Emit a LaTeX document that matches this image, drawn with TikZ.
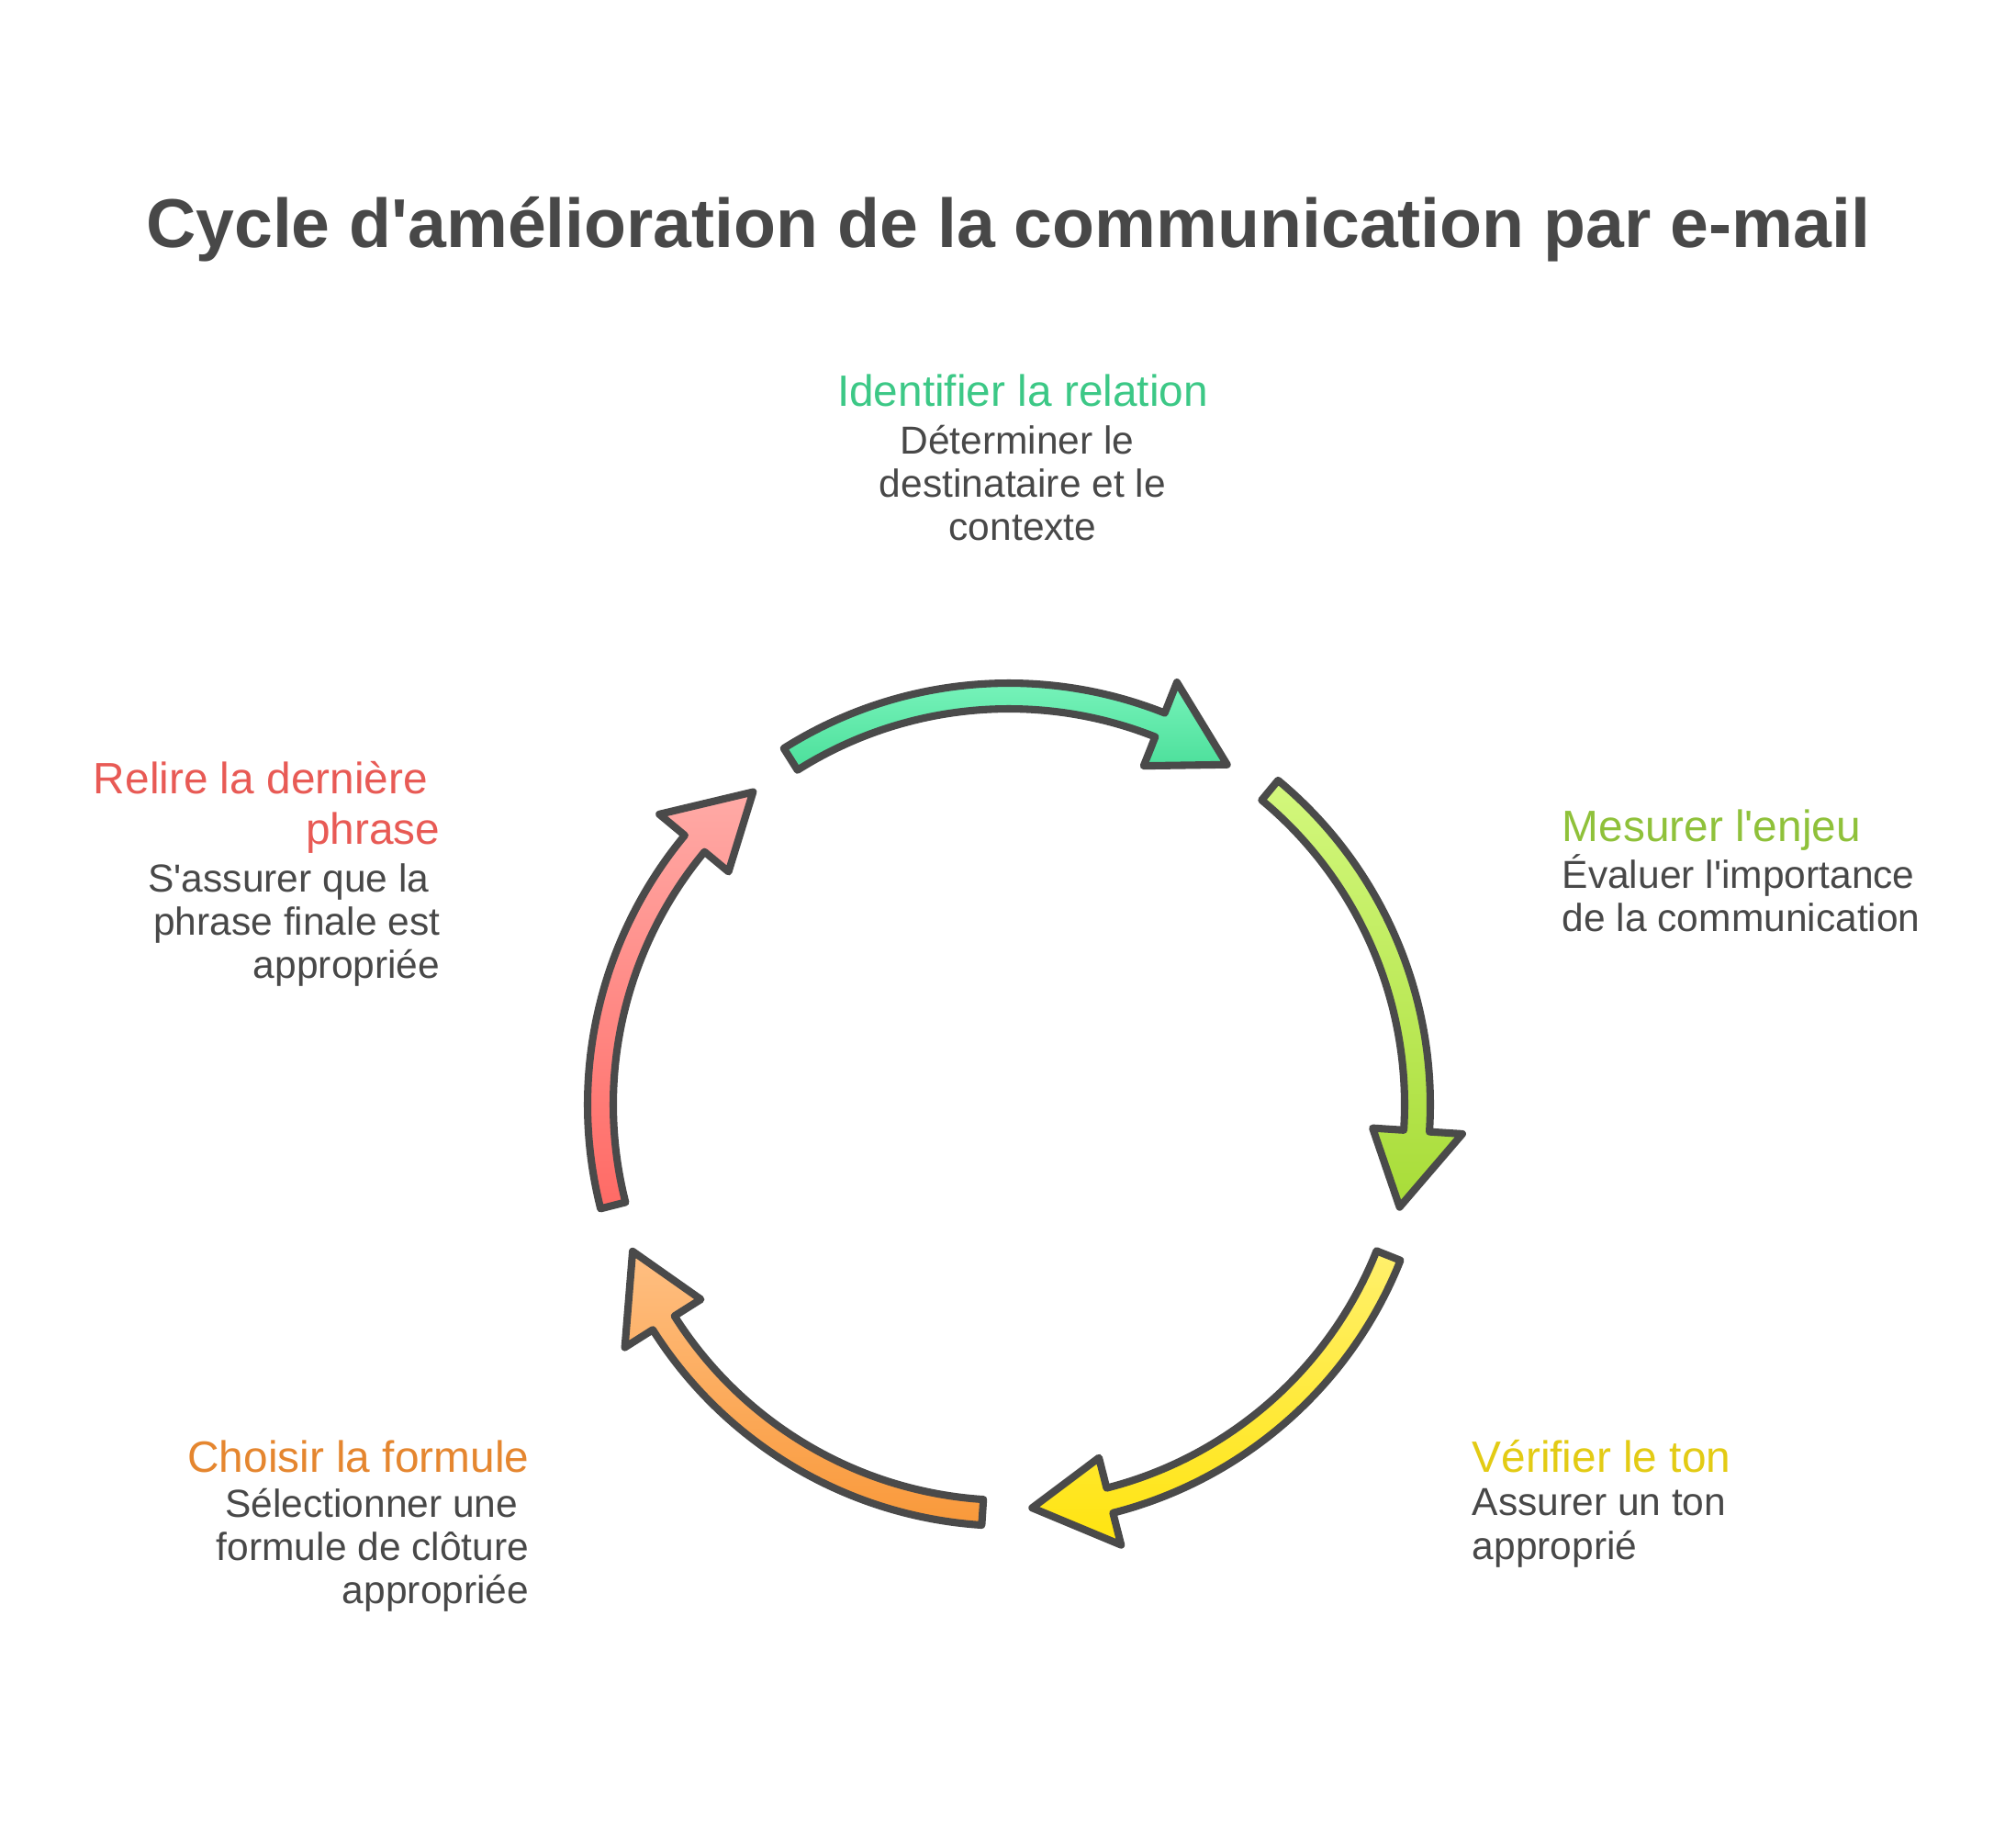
\documentclass[tikz,border=0pt]{standalone}
\usepackage{fontspec}
\setmainfont{Liberation Sans}
\usepackage{tikz}
\definecolor{ink}{HTML}{484848}
\definecolor{edge}{HTML}{4A4A4A}
\definecolor{gnT}{HTML}{80F7C1}\definecolor{gnB}{HTML}{4BDF9A}\definecolor{gnH}{HTML}{3CC886}
\definecolor{lmT}{HTML}{D3F87D}\definecolor{lmB}{HTML}{A8DC38}\definecolor{lmH}{HTML}{8FC13A}
\definecolor{ywT}{HTML}{FFF06C}\definecolor{ywB}{HTML}{FFE40F}\definecolor{ywH}{HTML}{E3CB14}
\definecolor{orT}{HTML}{FFBF82}\definecolor{orB}{HTML}{F9993A}\definecolor{orH}{HTML}{E5862F}
\definecolor{rdT}{HTML}{FFAAA6}\definecolor{rdB}{HTML}{FF6A65}\definecolor{rdH}{HTML}{E85A55}
\tikzset{
  arr/.style={draw=edge, line width=2.3pt, line join=round},
  ttl/.style={font=\fontsize{21.4}{26}\selectfont\bfseries, text=ink, inner sep=0pt},
  hd/.style={font=\fontsize{13.6}{15.6}\selectfont, inner sep=0pt, execute at begin node={\rule{0pt}{12pt}}},
  bd/.style={font=\fontsize{12.1}{13.4}\selectfont, text=ink, inner sep=0pt, execute at begin node={\rule{0pt}{11pt}}}
}
\newcommand{\tsp}{\hspace*{.28em}}
\newcommand{\q}{\textquotesingle}
\newcommand{\rIn}{4.31}
\newcommand{\rOut}{4.59}
\newcommand{\hIn}{3.97}
\newcommand{\hOut}{4.95}
\newcommand{\rTip}{4.40}
% #1 tail angle, #2 top colour, #3 bottom colour
\newcommand{\cycarrow}[3]{%
  \draw[arr, top color=#2, bottom color=#3]
    (#1:\rOut) arc[start angle=#1, end angle=#1-54, radius=\rOut]
    -- (#1-54:\hOut) -- (#1-65:\rTip) -- (#1-54:\hIn) -- (#1-54:\rIn)
    arc[start angle=#1-54, end angle=#1, radius=\rIn] -- cycle;}

\begin{document}
\begin{tikzpicture}
\useasboundingbox[fill=white] (0,0) rectangle (21.96,-19.92);
\node[ttl, anchor=base] (title) at (10.98,-2.70) {Cycle d\q amélioration de la communication par e-mail};

\begin{scope}[shift={(10.99,-12.03)}]
\cycarrow{122.3}{gnT}{gnB}
\cycarrow{50.3}{lmT}{lmB}
\cycarrow{-21.7}{ywT}{ywB}
\cycarrow{-93.7}{orT}{orB}
\cycarrow{-165.7}{rdT}{rdB}
\end{scope}

\node[hd, text=gnH, anchor=base] (relT) at (11.14,-4.43) {Identifier la relation};
\node[bd, align=center, anchor=north] (relB) at (11.14,-4.62) {Déterminer le\tsp\\destinataire et le\tsp\\contexte};
\node[hd, text=lmH, anchor=base west] (enjT) at (17.01,-9.16) {Mesurer l\q enjeu};
\node[bd, align=left, anchor=north west] (enjB) at (17.01,-9.30) {Évaluer l\q importance\\de la communication};
\node[hd, text=ywH, anchor=base west] (tonT) at (16.03,-16.03) {Vérifier le ton};
\node[bd, align=left, anchor=north west] (tonB) at (16.03,-16.21) {Assurer un ton\\approprié};
\node[hd, text=orH, anchor=base east] (forT) at (5.77,-16.03) {Choisir la formule};
\node[bd, align=right, anchor=north east] (forB) at (5.77,-16.20) {Sélectionner une\tsp\\formule de clôture\tsp\\appropriée};
\node[hd, text=rdH, align=right, anchor=north east] (phrT) at (4.80,-8.29) {Relire la dernière\tsp\\phrase};
\node[bd, align=right, anchor=north east] (phrB) at (4.80,-9.40) {S\q assurer que la\tsp\\phrase finale est\tsp\\appropriée};
\end{tikzpicture}
\end{document}
